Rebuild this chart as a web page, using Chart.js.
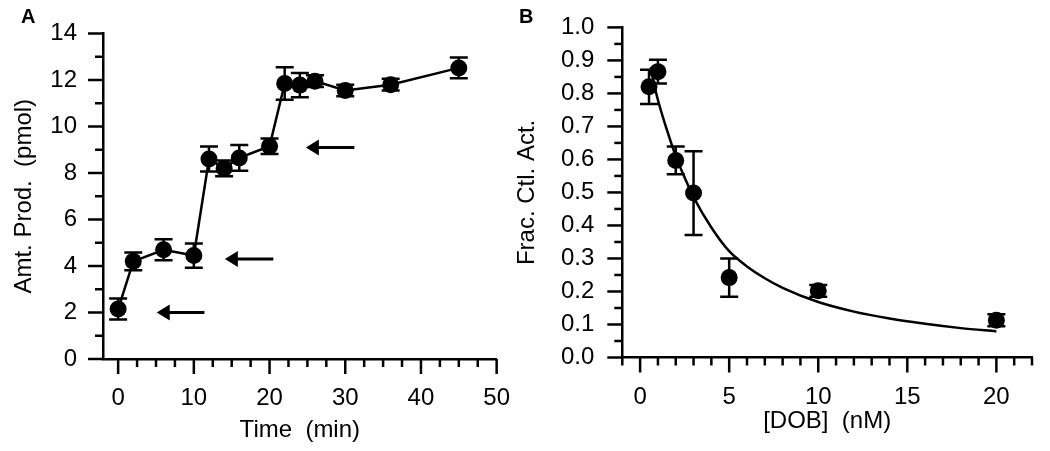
<!DOCTYPE html>
<html>
<head>
<meta charset="utf-8">
<script src="https://cdn.jsdelivr.net/npm/chart.js@4.4.0/dist/chart.umd.min.js"></script>
<style>
  html, body { margin: 0; padding: 0; background: #fff; }
  #wrap { position: relative; width: 1050px; height: 451px; overflow: hidden; }
  canvas { position: absolute; top: 0; }
  #chartA { left: 0; }
  #chartB { left: 505px; }
</style>
</head>
<body>
<div id="wrap">
  <canvas id="chartA" width="520" height="451"></canvas>
  <canvas id="chartB" width="545" height="451"></canvas>
</div>
<script>
// Panel A - product formed over time
const timeMin = [0, 2, 6, 10, 12, 14, 16, 20, 22, 24, 26, 30, 36, 45];
const amtProd = [2.15, 4.2, 4.7, 4.45, 8.6, 8.2, 8.65, 9.15, 11.85, 11.78, 11.95, 11.55, 11.8, 12.52];
const amtProdErr = [0.45, 0.38, 0.45, 0.52, 0.54, 0.34, 0.55, 0.33, 0.7, 0.52, 0.25, 0.25, 0.25, 0.45];
const arrowTipX = [5.1, 14.1, 24.8];
const arrowTailX = [11.4, 20.5, 31.2];
const arrowY = [2.0, 4.3, 9.1];
const timeTicks = [0, 10, 20, 30, 40, 50];
const amtTicks = [0, 2, 4, 6, 8, 10, 12, 14];

// Panel B - inhibition by DOB
const dobNM = [0.5, 1, 2, 3, 5, 10, 20];
const fracAct = [0.82, 0.866, 0.597, 0.498, 0.242, 0.202, 0.113];
const fracActErr = [0.052, 0.036, 0.042, 0.127, 0.058, 0.018, 0.018];
// fitted curve
const fitX = [0.6, 0.8, 1, 1.5, 2, 2.5, 3, 4, 5, 6, 7, 8, 10, 12, 14, 16, 18, 20];
const fitY = [0.88, 0.825, 0.78, 0.69, 0.61, 0.545, 0.486, 0.394, 0.322, 0.276, 0.24, 0.211, 0.168, 0.139, 0.118, 0.102, 0.089, 0.079];
const dobTicks = [0, 5, 10, 15, 20];
const fracTicks = ['0.0', '0.1', '0.2', '0.3', '0.4', '0.5', '0.6', '0.7', '0.8', '0.9', '1.0'];

const FONT = "'Liberation Sans', Arial, Helvetica, sans-serif";

function stepTicks(min, max, step) {
  const out = [];
  for (let v = Math.ceil(min / step - 1e-9) * step; v <= max + 1e-9; v += step) {
    out.push({ value: Math.round(v * 1000) / 1000 });
  }
  return out;
}

function makeAxis(o) {
  return {
    type: 'linear',
    min: o.min,
    max: o.max,
    afterBuildTicks: s => { s.ticks = stepTicks(o.min, o.max, o.step); },
    afterFit: s => {
      if (o.width) s.width = o.width;
      if (o.height) s.height = o.height;
    },
    border: { display: true, color: '#000', width: 2.5 },
    grid: { display: true, drawOnChartArea: false, drawTicks: true, tickLength: 15, tickColor: 'rgba(0,0,0,0)' },
    ticks: {
      color: '#000',
      font: { family: FONT, size: 24 },
      padding: o.pad,
      autoSkip: false,
      maxRotation: 0,
      minRotation: 0,
      callback: o.label
    },
    title: { display: true, text: o.title, color: '#000', font: { family: FONT, size: 24 }, padding: o.titlePad }
  };
}

// major ticks long, minor ticks short, all pointing outward
const tickMarks = {
  id: 'tickMarks',
  afterDraw(chart) {
    const { ctx, chartArea } = chart;
    ctx.save();
    ctx.strokeStyle = '#000';
    ctx.lineWidth = 2.5;
    ['x', 'y'].forEach(id => {
      const s = chart.scales[id];
      s.ticks.forEach(t => {
        const len = t.label === '' ? 8 : 15;
        const p = s.getPixelForValue(t.value);
        ctx.beginPath();
        if (id === 'x') {
          ctx.moveTo(p, chartArea.bottom);
          ctx.lineTo(p, chartArea.bottom + len);
        } else {
          ctx.moveTo(chartArea.left, p);
          ctx.lineTo(chartArea.left - len, p);
        }
        ctx.stroke();
      });
    });
    ctx.restore();
  }
};

const errorBars = {
  id: 'errorBars',
  afterDatasetsDraw(chart) {
    const { ctx, scales: { x, y } } = chart;
    chart.data.datasets.forEach(ds => {
      if (!ds.errors) return;
      ctx.save();
      ctx.strokeStyle = '#000';
      ctx.lineWidth = 2.5;
      ds.data.forEach((pt, i) => {
        const px = x.getPixelForValue(pt.x);
        const top = y.getPixelForValue(pt.y + ds.errors[i]);
        const bot = y.getPixelForValue(pt.y - ds.errors[i]);
        ctx.beginPath();
        ctx.moveTo(px, top); ctx.lineTo(px, bot);
        ctx.moveTo(px - 9, top); ctx.lineTo(px + 9, top);
        ctx.moveTo(px - 9, bot); ctx.lineTo(px + 9, bot);
        ctx.stroke();
      });
      ctx.restore();
    });
  }
};

const panelLabel = {
  id: 'panelLabel',
  afterDraw(chart, args, opts) {
    const ctx = chart.ctx;
    ctx.save();
    ctx.fillStyle = '#000';
    ctx.font = 'bold 20px ' + FONT;
    ctx.textBaseline = 'alphabetic';
    ctx.fillText(opts.text, opts.x, opts.y);
    ctx.restore();
  }
};

const arrows = {
  id: 'arrows',
  afterDatasetsDraw(chart) {
    const { ctx, scales: { x, y } } = chart;
    ctx.save();
    ctx.strokeStyle = '#000';
    ctx.fillStyle = '#000';
    ctx.lineWidth = 3;
    for (let i = 0; i < arrowY.length; i++) {
      const tip = x.getPixelForValue(arrowTipX[i]);
      const tail = x.getPixelForValue(arrowTailX[i]);
      const py = y.getPixelForValue(arrowY[i]);
      ctx.beginPath();
      ctx.moveTo(tail, py);
      ctx.lineTo(tip + 10, py);
      ctx.stroke();
      ctx.beginPath();
      ctx.moveTo(tip, py);
      ctx.lineTo(tip + 13, py - 8);
      ctx.lineTo(tip + 13, py + 8);
      ctx.closePath();
      ctx.fill();
    }
    ctx.restore();
  }
};

const pointStyle = {
  pointRadius: 8.5,
  pointHoverRadius: 8.5,
  pointBackgroundColor: '#000',
  pointBorderWidth: 0,
  borderColor: '#000',
  clip: false
};

new Chart(document.getElementById('chartA'), {
  type: 'scatter',
  data: {
    datasets: [Object.assign({
      data: timeMin.map((t, i) => ({ x: t, y: amtProd[i] })),
      errors: amtProdErr,
      showLine: true,
      borderWidth: 2.5,
      tension: 0
    }, pointStyle)]
  },
  options: {
    responsive: false,
    devicePixelRatio: 1,
    animation: false,
    events: [],
    layout: { padding: { left: 0, top: 33.5, right: 22, bottom: 0 } },
    scales: {
      x: makeAxis({ min: -2, max: 50, step: 2.5, height: 92, pad: 10,
        title: 'Time  (min)', titlePad: { top: 0, bottom: 6 },
        label: v => timeTicks.includes(v) ? String(v) : '' }),
      y: makeAxis({ min: 0, max: 14, step: 1, width: 103, pad: 11,
        title: 'Amt. Prod.  (pmol)', titlePad: { top: 10, bottom: 0 },
        label: v => amtTicks.includes(v) ? String(v) : '' })
    },
    plugins: {
      legend: { display: false },
      tooltip: { enabled: false },
      panelLabel: { text: 'A', x: 21, y: 23 }
    }
  },
  plugins: [tickMarks, errorBars, arrows, panelLabel]
});

new Chart(document.getElementById('chartB'), {
  type: 'scatter',
  data: {
    datasets: [
      Object.assign({
        data: dobNM.map((d, i) => ({ x: d, y: fracAct[i] })),
        errors: fracActErr,
        showLine: false,
        order: 1
      }, pointStyle),
      {
        data: fitX.map((d, i) => ({ x: d, y: fitY[i] })),
        showLine: true,
        borderColor: '#000',
        borderWidth: 2.5,
        pointRadius: 0,
        cubicInterpolationMode: 'monotone',
        clip: false,
        order: 2
      }
    ]
  },
  options: {
    responsive: false,
    devicePixelRatio: 1,
    animation: false,
    events: [],
    layout: { padding: { left: 0, top: 18, right: 18, bottom: 0 } },
    scales: {
      x: makeAxis({ min: -1, max: 22, step: 1, height: 93.5, pad: 10,
        title: '[DOB]  (nM)', titlePad: { top: 0, bottom: 15 },
        label: v => dobTicks.includes(v) ? String(v) : '' }),
      y: makeAxis({ min: 0, max: 1, step: 0.05, width: 117.3, pad: 13,
        title: 'Frac. Ctl. Act.', titlePad: { top: 8, bottom: 0 },
        label: v => {
          const hit = fracTicks.find(t => Math.abs(parseFloat(t) - v) < 1e-6);
          return hit !== undefined ? hit : '';
        } })
    },
    plugins: {
      legend: { display: false },
      tooltip: { enabled: false },
      panelLabel: { text: 'B', x: 14, y: 23 }
    }
  },
  plugins: [tickMarks, errorBars, panelLabel]
});
</script>
</body>
</html>
